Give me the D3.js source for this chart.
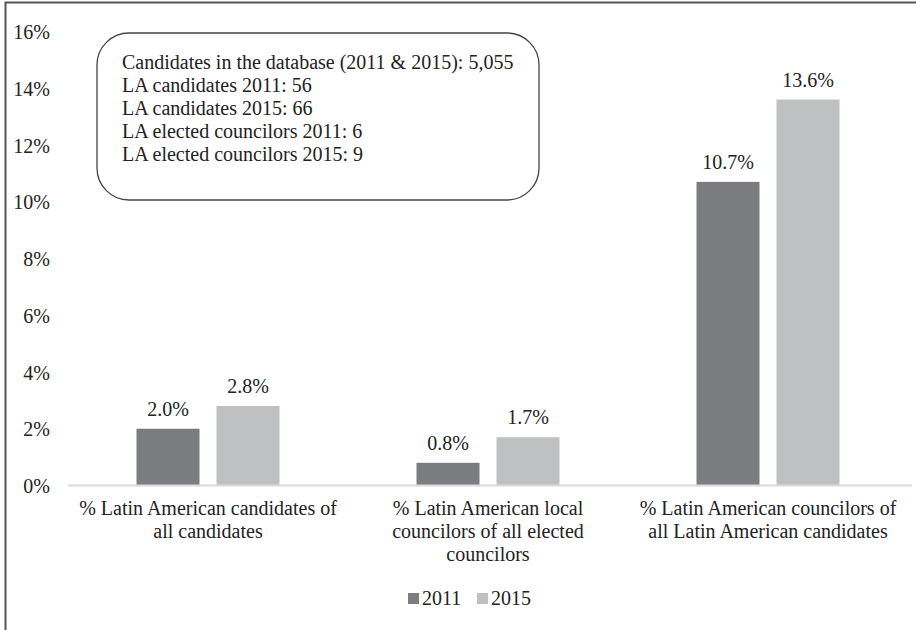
<!DOCTYPE html>
<html><head><meta charset="utf-8">
<script src="https://cdn.jsdelivr.net/npm/d3@7"></script>
</head><body style="margin:0">
<script>
const categories = [
  ["% Latin American candidates of", "all candidates"],
  ["% Latin American local", "councilors of all elected", "councilors"],
  ["% Latin American councilors of", "all Latin American candidates"]
];
const series = ["2011", "2015"];
const values2011 = [2.0, 0.8, 10.7];
const values2015 = [2.8, 1.7, 13.6];
const labels2011 = ["2.0%", "0.8%", "10.7%"];
const labels2015 = ["2.8%", "1.7%", "13.6%"];
const yTicks = [0, 2, 4, 6, 8, 10, 12, 14, 16];
const noteLines = [
  "Candidates in the database (2011 & 2015): 5,055",
  "LA candidates 2011: 56",
  "LA candidates 2015: 66",
  "LA elected councilors 2011: 6",
  "LA elected councilors 2015: 9"
];
const colors = ["#7b7c80", "#bfc0c2"];
const FONT = '"Liberation Serif"';
const FS = 20;

const W = 916, H = 630;
const svg = d3.select("body").append("svg").attr("width", W).attr("height", H);

svg.append("rect").attr("x", 5.5).attr("y", 2.5).attr("width", W + 10).attr("height", H + 10)
  .attr("fill", "none").attr("stroke", "#555").attr("stroke-width", 2);

const x0 = d3.scaleBand().domain(d3.range(categories.length)).range([68, 908]).paddingInner(0).paddingOuter(0);
const x1 = d3.scaleBand().domain(series).range([68.5, 211.5]).paddingInner(17 / 80);
const y = d3.scaleLinear().domain([0, 16]).range([485.5, 31.5]);

// y tick labels
yTicks.forEach(d => {
  svg.append("text").attr("x", 50).attr("y", y(d) + 7.5)
    .attr("text-anchor", "end").attr("font-size", FS).attr("fill", "#222")
    .style("font-family", FONT).text(d + "%");
});

// bars
const g = svg.append("g");
categories.forEach((c, i) => {
  const vals = [values2011[i], values2015[i]];
  const labs = [labels2011[i], labels2015[i]];
  series.forEach((s, k) => {
    const bx = x0(i) + x1(s);
    g.append("rect").attr("x", bx).attr("y", y(vals[k]))
      .attr("width", x1.bandwidth()).attr("height", y(0) - y(vals[k]))
      .attr("fill", colors[k]);
    svg.append("text").attr("x", bx + x1.bandwidth() / 2).attr("y", y(vals[k]) - 13)
      .attr("text-anchor", "middle").attr("font-size", FS).attr("fill", "#222")
      .style("font-family", FONT).text(labs[k]);
  });
});

// baseline
svg.append("line").attr("x1", 68).attr("x2", 912).attr("y1", y(0)).attr("y2", y(0))
  .attr("stroke", "#d9d9d9").attr("stroke-width", 2);

// category labels
categories.forEach((lines, i) => {
  lines.forEach((ln, j) => {
    svg.append("text").attr("x", x0(i) + x0.bandwidth() / 2).attr("y", 514.5 + j * 23)
      .attr("text-anchor", "middle").attr("font-size", FS).attr("fill", "#222")
      .style("font-family", FONT).text(ln);
  });
});

// note box
svg.append("rect").attr("x", 97).attr("y", 33).attr("width", 442).attr("height", 167)
  .attr("rx", 32).attr("ry", 32).attr("fill", "#fff").attr("stroke", "#444").attr("stroke-width", 1.3);
noteLines.forEach((ln, j) => {
  svg.append("text").attr("x", 122).attr("y", 69 + j * 23.1).attr("font-size", FS).attr("fill", "#222")
    .style("font-family", FONT).text(ln);
});

// legend
const legX = [408, 477];
series.forEach((s, k) => {
  svg.append("rect").attr("x", legX[k]).attr("y", 593).attr("width", 11).attr("height", 11).attr("fill", colors[k]);
  svg.append("text").attr("x", legX[k] + 14).attr("y", 605).attr("font-size", FS).attr("fill", "#222")
    .style("font-family", FONT).text(s);
});
</script>
</body></html>
